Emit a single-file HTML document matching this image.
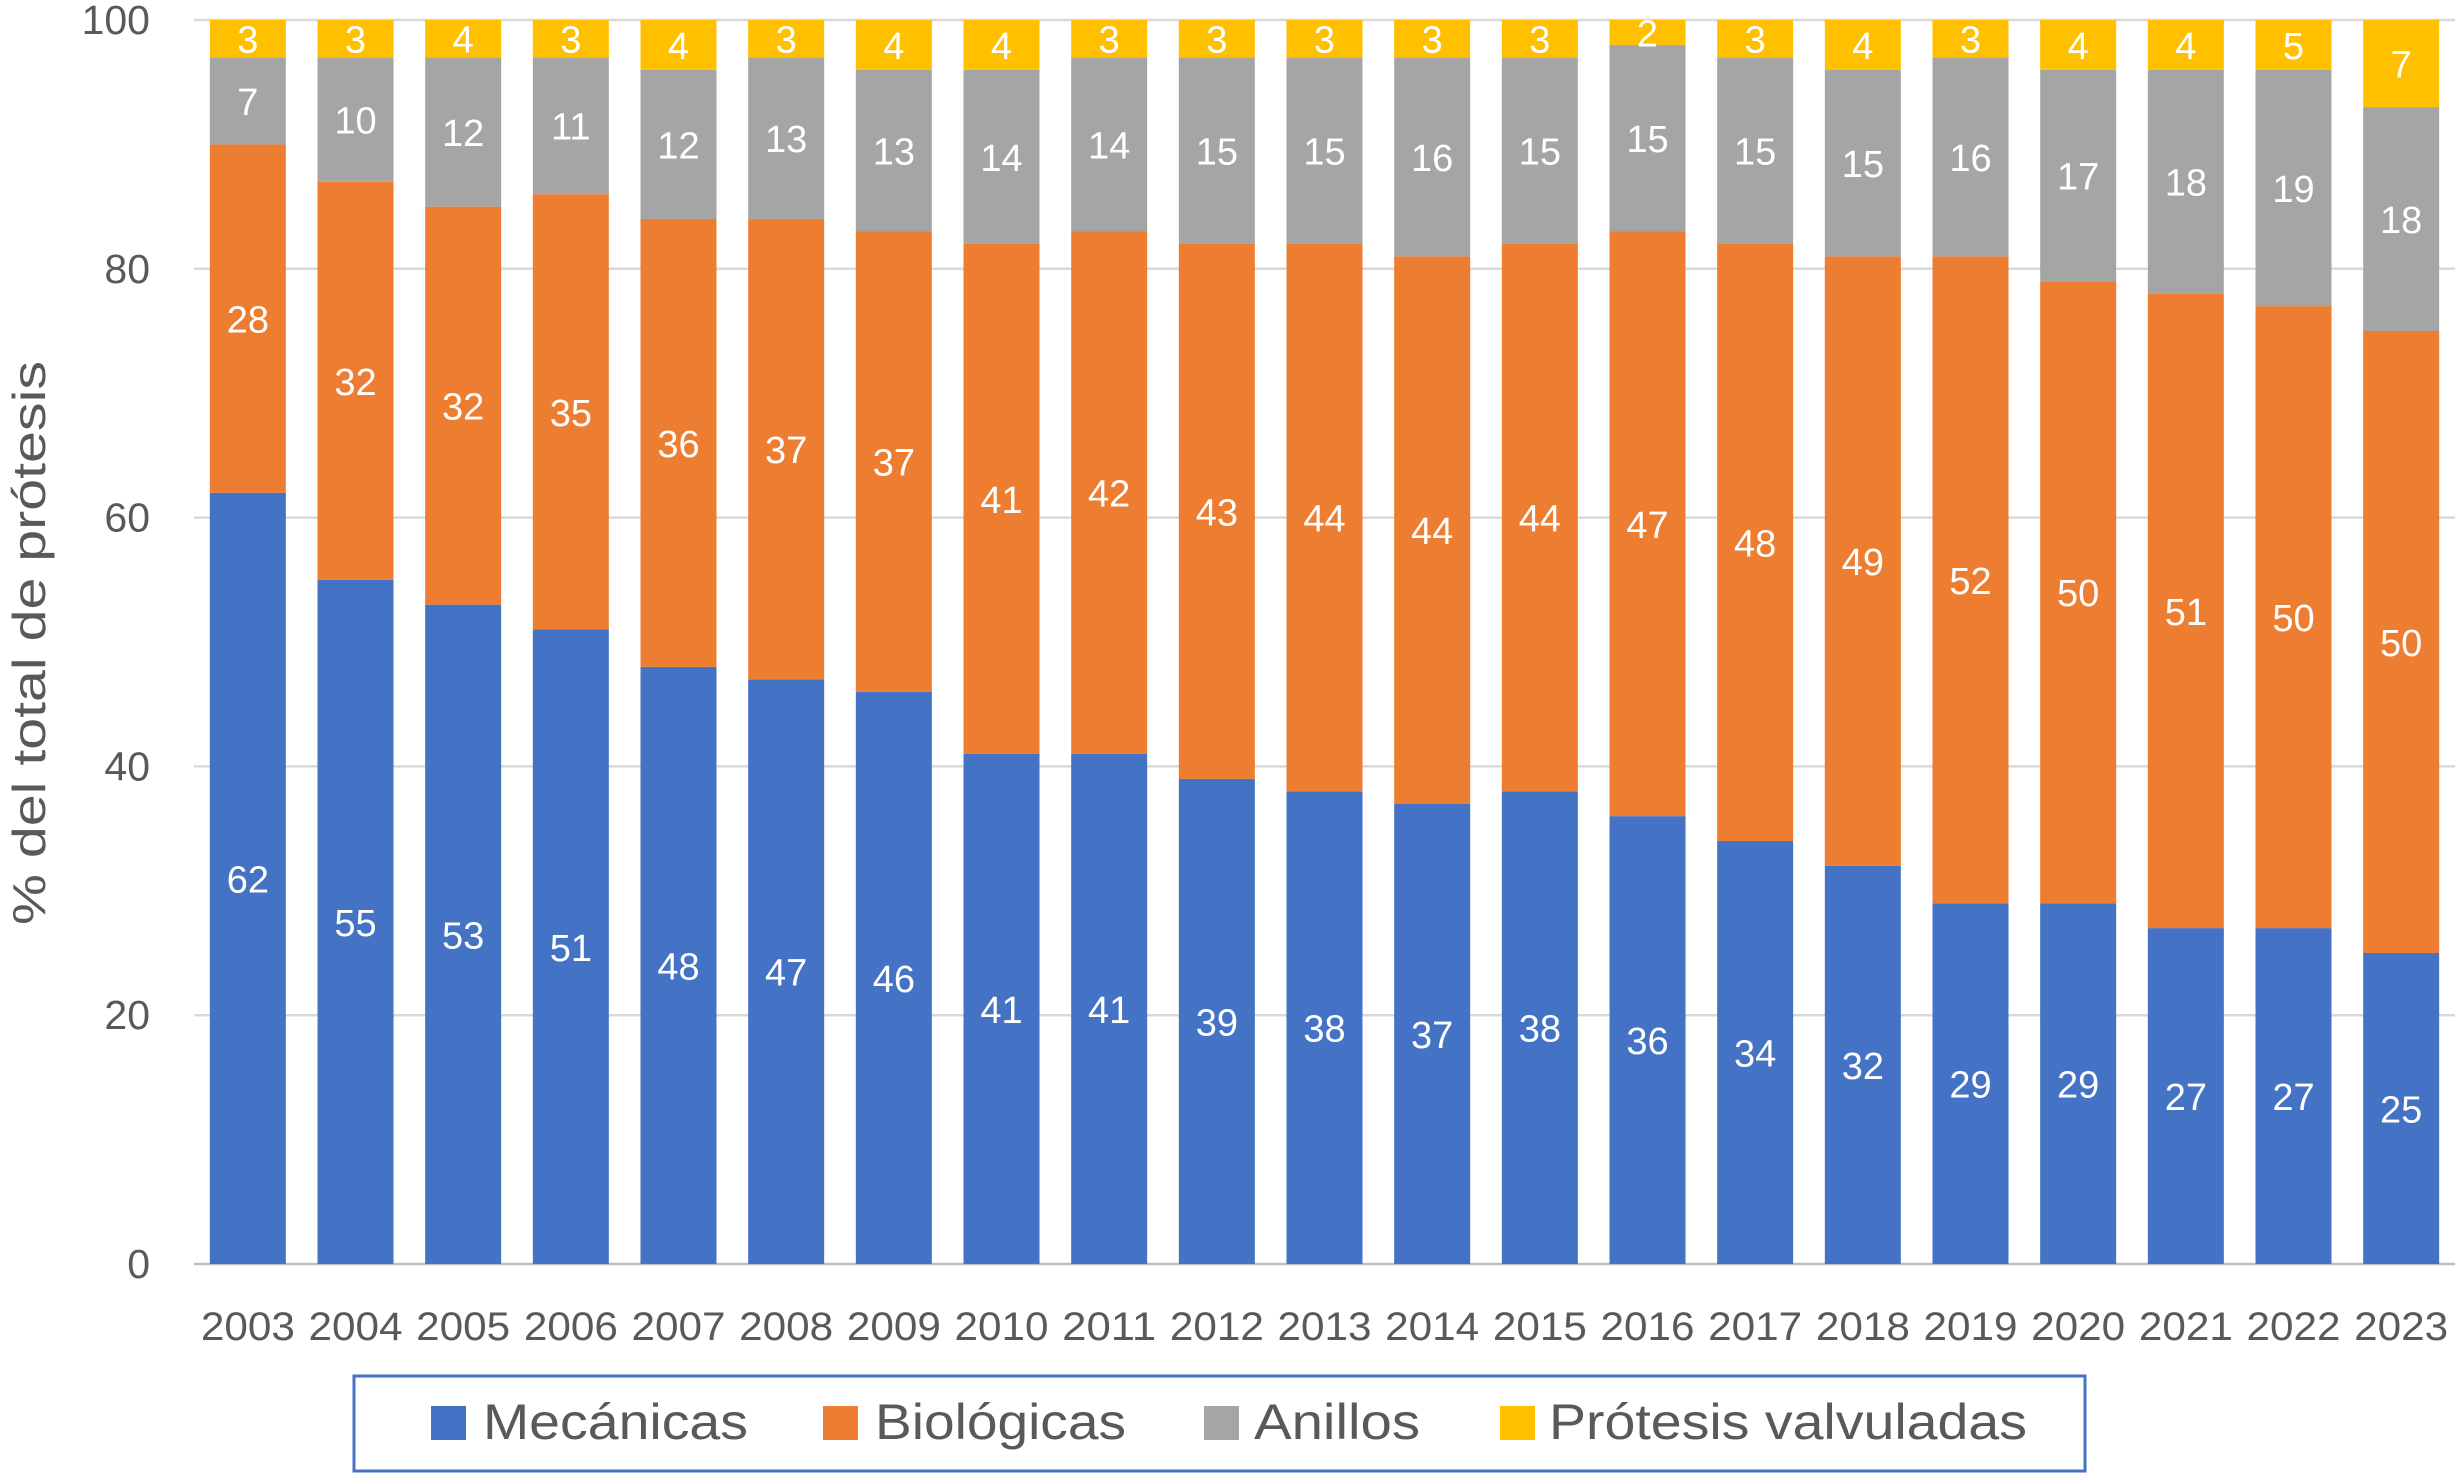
<!DOCTYPE html>
<html><head><meta charset="utf-8"><style>
html,body{margin:0;padding:0;background:#fff;}
svg{display:block;font-family:"Liberation Sans",sans-serif;}
</style></head><body>
<svg id="chart" width="2458" height="1478" viewBox="0 0 2458 1478" xmlns="http://www.w3.org/2000/svg">
<g id="grid"></g>
<g id="yticks"></g>
<g id="bars"></g>
<g id="xticks"></g>
<text transform="translate(45,643) rotate(-90)" text-anchor="middle" font-size="46" fill="#595959" textLength="564" lengthAdjust="spacingAndGlyphs">% del total de prótesis</text>
<g>
<rect x="354" y="1376" width="1731" height="95" fill="#fff" stroke="#4472C4" stroke-width="3"/>
<g><rect x="431" y="1406" width="35" height="34" fill="#4472C4"/><text x="483" y="1439" font-size="50" fill="#595959" textLength="265" lengthAdjust="spacingAndGlyphs">Mecánicas</text></g>
<g><rect x="823" y="1406" width="35" height="34" fill="#ED7D31"/><text x="875" y="1439" font-size="50" fill="#595959" textLength="251" lengthAdjust="spacingAndGlyphs">Biológicas</text></g>
<g><rect x="1204" y="1406" width="35" height="34" fill="#A5A5A5"/><text x="1254" y="1439" font-size="50" fill="#595959" textLength="166" lengthAdjust="spacingAndGlyphs">Anillos</text></g>
<g><rect x="1500" y="1406" width="35" height="34" fill="#FFC000"/><text x="1549" y="1439" font-size="50" fill="#595959" textLength="478" lengthAdjust="spacingAndGlyphs">Prótesis valvuladas</text></g>
</g>
</svg>
<script>
const years = ["2003","2004","2005","2006","2007","2008","2009","2010","2011","2012","2013","2014","2015","2016","2017","2018","2019","2020","2021","2022","2023"];
const mecanicas = [62,55,53,51,48,47,46,41,41,39,38,37,38,36,34,32,29,29,27,27,25];
const biologicas = [28,32,32,35,36,37,37,41,42,43,44,44,44,47,48,49,52,50,51,50,50];
const anillos = [7,10,12,11,12,13,13,14,14,15,15,16,15,15,15,15,16,17,18,19,18];
const valvuladas = [3,3,4,3,4,3,4,4,3,3,3,3,3,2,3,4,3,4,4,5,7];
const yTicks = [0,20,40,60,80,100];
const seriesNames = ["mecanicas","biologicas","anillos","valvuladas"];

const NS="http://www.w3.org/2000/svg";
const X0=194, X1=2455, Y0=1264, Y100=20;
const band=(X1-X0)/years.length, barW=76;
const y=v=>Y0-(v/100)*(Y0-Y100);
const xc=i=>X0+band*(i+0.5);
function mk(tag,attrs,parent){const e=document.createElementNS(NS,tag);for(const k in attrs)e.setAttribute(k,attrs[k]);parent.appendChild(e);return e;}
const grid=document.getElementById('grid'),yt=document.getElementById('yticks'),bars=document.getElementById('bars'),xt=document.getElementById('xticks');
yTicks.forEach(t=>{
  const l=mk('line',{x1:X0,x2:X1,y1:y(t),y2:y(t),stroke:t===0?'#BFBFBF':'#D9D9D9','stroke-width':2.5},grid);
  
  
  const tx=mk('text',{x:150,y:y(t)+14,'text-anchor':'end','font-size':41,fill:'#595959'},yt);
  tx.textContent=t;
  
  
});
const colors=["#4472C4","#ED7D31","#A5A5A5","#FFC000"];
const series=[mecanicas,biologicas,anillos,valvuladas];
years.forEach((yr,i)=>{
  let cum=0;
  series.forEach((s,k)=>{
    const v=s[i];
    const lo=Math.min(cum,100), hi=Math.min(cum+v,100);
    cum+=v;
    const r=mk('rect',{x:xc(i)-barW/2,y:y(hi),width:barW,height:y(lo)-y(hi),fill:colors[k]},bars);
    
    
    const t=mk('text',{x:xc(i),y:(y(lo)+y(hi))/2+14,'text-anchor':'middle','font-size':38,fill:'#fff'},bars);
    t.textContent=v;
    
    
  });
  const xl=mk('text',{x:xc(i),y:1340,'text-anchor':'middle','font-size':40,fill:'#595959',textLength:94,lengthAdjust:'spacingAndGlyphs'},xt);
  xl.textContent=yr;
  
  
});
</script>
</body></html>
